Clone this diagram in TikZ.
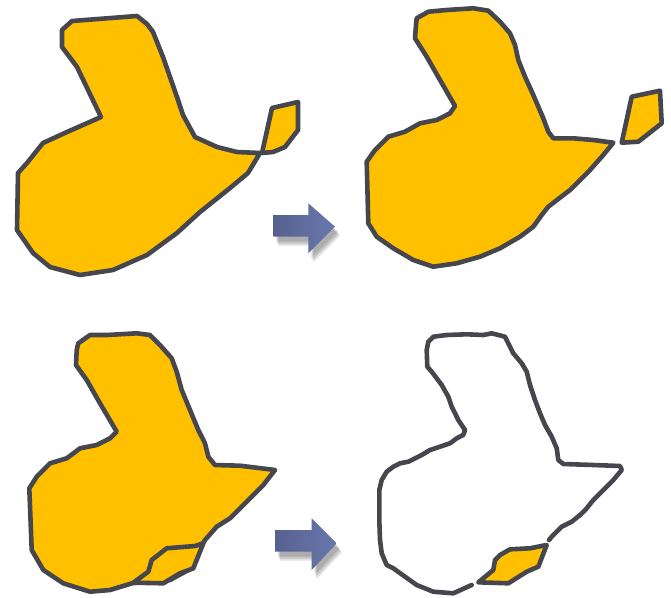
\documentclass[tikz,border=0pt]{standalone}
\usetikzlibrary{shadings}
\definecolor{shapefill}{HTML}{FFC000}
\definecolor{outline}{HTML}{46464F}
\definecolor{arrowL}{HTML}{55628F}
\definecolor{arrowR}{HTML}{6A77AC}
\tikzset{
  blob/.style={fill=shapefill, draw=outline, line width=4.6pt, line join=round, line cap=round},
  rim/.style={draw=outline, line width=4.6pt, line join=round, line cap=round},
  bigarrow/.style={left color=arrowL, right color=arrowR, draw=none},
  arrowshade/.style={fill=black, opacity=0.12, draw=none}
}
\begin{document}
\begin{tikzpicture}[x=1pt,y=-1pt]
\useasboundingbox (0,0) rectangle (671,597);
% ---------- top left ----------
\draw[blob] (72,21) -- (137,16) -- (147,24) -- (153,32) -- (163,57) -- (177,97) -- (183,115) -- (195,137) -- (217,147) -- (237,152) -- (260,153) -- (248,173) -- (230,188) -- (200,212) -- (177,233) -- (147,255) -- (113,270) -- (80,275) -- (50,267) -- (33,253) -- (17,230) -- (18,173) -- (27,163) -- (43,143) -- (67,132) -- (101,117) -- (88,90) -- (77,67) -- (62,47) -- (62,30) -- cycle;
\draw[blob] (262,153) -- (272,108) -- (298,102) -- (298,130) -- (285,147) -- (273,152) -- cycle;
% ---------- top right ----------
\draw[blob] (416.7,18.3) -- (428.3,11.7) -- (446.7,10) -- (473.3,8.3) -- (488.3,10.7) -- (500,21.7) -- (510,33.3) -- (515,45) -- (518.3,60) -- (525,76.7) -- (533.3,95) -- (543.3,118.3) -- (548.3,131.7) -- (553.3,138.3) -- (573.3,138.3) -- (593.3,140) -- (613.3,142.7) -- (603.3,155) -- (590,170) -- (570,190) -- (548.3,206.7) -- (541.7,215) -- (533.3,226.7) -- (520,236.7) -- (500,248.3) -- (480,256.7) -- (456.7,263.3) -- (433.3,266.7) -- (413.3,260) -- (393.3,248.3) -- (376.7,236.7) -- (368.3,223.3) -- (366.7,161.7) -- (375,150) -- (388.3,136.7) -- (405,131.7) -- (420,123.3) -- (436.7,120) -- (450,113.3) -- (455,106) -- (440,80) -- (426.7,56.7) -- (415,38.3) -- (416,25) -- cycle;
\draw[blob] (631.7,96.7) -- (660,90.7) -- (661.7,123.3) -- (638.3,141.7) -- (621.7,142.7) -- cycle;
% ---------- bottom left ----------
\draw[blob] (78.3,343.3) -- (90,335) -- (106.7,335) -- (136.7,333.3) -- (150,335) -- (160,345) -- (171.7,358.3) -- (176.7,371.7) -- (181.7,390) -- (190,410) -- (198.3,430) -- (205,443.3) -- (208.3,456.7) -- (215,465) -- (240,465.7) -- (275,470) -- (263.3,485) -- (248.3,500) -- (230,518.3) -- (216.7,526.7) -- (205,540) -- (200,548) -- (192,568) -- (170,580) -- (133,583) -- (110,590) -- (90,591.7) -- (63.3,583.3) -- (43.3,570) -- (31.7,550) -- (29.3,488.3) -- (36.7,476.7) -- (50,463.3) -- (66.7,458.3) -- (80,448.3) -- (96.7,445) -- (110,438.3) -- (116.7,431.7) -- (100,403.3) -- (86.7,380) -- (76,365) -- (76.7,350) -- cycle;
\draw[blob] (166.7,548.3) -- (195,546) -- (203.3,543.3) -- (193.3,568.3) -- (180,573.3) -- (163.3,583.3) -- (133.3,582.7) -- (148.3,571.7) -- (151.7,560) -- cycle;
% ---------- bottom right ----------
\draw[rim] (471.7,585) -- (453.3,593.3) -- (433.3,591.7) -- (416.7,585) -- (405,576.7) -- (393.3,568.3) -- (386.7,565) -- (381.7,553.3) -- (380,540) -- (379.3,520) -- (379.3,490) -- (381.7,480) -- (386.7,471.7) -- (393.3,466.7) -- (400,463.3) -- (408.3,461.7) -- (421.7,455) -- (430,450) -- (440,446.7) -- (450,443.3) -- (456.7,438.3) -- (463.3,435) -- (465,430) -- (458.3,420) -- (451.7,406.7) -- (448.3,396.7) -- (441.7,385) -- (436.7,378.3) -- (431.7,371.7) -- (427.3,366.7) -- (426.7,350) -- (428.3,341.7) -- (433.3,336.7) -- (446.7,335) -- (466.7,334.3) -- (483.3,335) -- (491.7,333.3) -- (505,336.7) -- (508.3,343.3) -- (513.3,353.3) -- (521.7,363.3) -- (526.7,371.7) -- (530,385) -- (535,400) -- (540,413.3) -- (545,425) -- (551.7,436.7) -- (556.7,448.3) -- (558.3,460) -- (563.3,464) -- (593.3,465) -- (620,466) -- (621.7,470) -- (613.3,480) -- (603.3,490) -- (593.3,500) -- (586.7,508.3) -- (580,515) -- (571.7,521.7) -- (561.7,526.7) -- (551.7,536.7) -- (549,540);
\draw[blob] (510,549.3) -- (530,548.3) -- (546.7,545) -- (538.3,566.7) -- (526.7,571.7) -- (508.3,583.3) -- (478.3,582.3) -- (493.3,570) -- (495,560) -- (500,555) -- cycle;
% ---------- arrows ----------
\foreach \dx/\dy in {3/5, 4/7, 5/9} {
  \fill[arrowshade, shift={(\dx,\dy)}] (273.3,215) -- (308.3,215) -- (308.3,203.3) -- (335,226.7) -- (308.3,253.3) -- (308.3,236.7) -- (273.3,236.7) -- cycle;
  \fill[arrowshade, shift={(\dx,\dy)}] (275,530) -- (311.7,530) -- (311.7,518.3) -- (336.7,543.3) -- (311.7,570) -- (311.7,551.7) -- (275,551.7) -- cycle;
}
\shade[bigarrow] (273.3,215) -- (308.3,215) -- (308.3,203.3) -- (335,226.7) -- (308.3,253.3) -- (308.3,236.7) -- (273.3,236.7) -- cycle;
\shade[bigarrow] (275,530) -- (311.7,530) -- (311.7,518.3) -- (336.7,543.3) -- (311.7,570) -- (311.7,551.7) -- (275,551.7) -- cycle;
\end{tikzpicture}
\end{document}
